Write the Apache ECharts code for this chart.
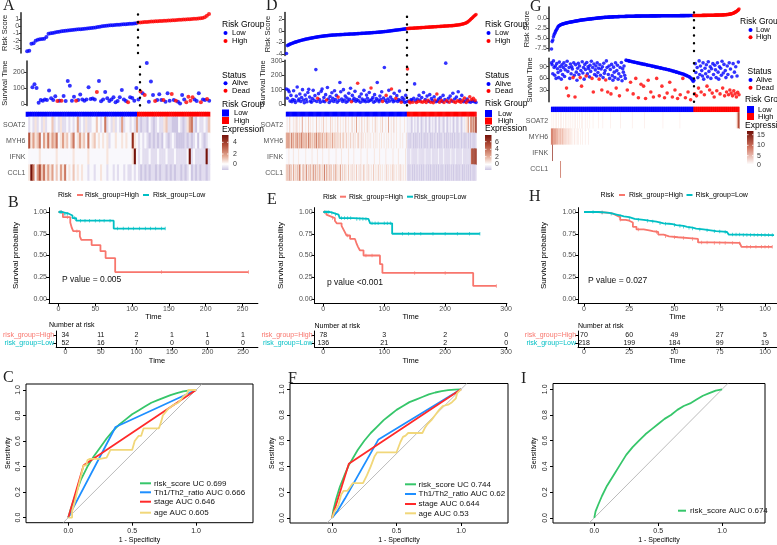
<!DOCTYPE html>
<html><head><meta charset="utf-8"><title>Risk model figure</title>
<script src="https://cdn.jsdelivr.net/npm/echarts@6.0.0/dist/echarts.min.js"></script>
<style>html,body{margin:0;padding:0;background:#fff;}#chart{width:777px;height:545px;}</style>
</head><body><div id="chart"></div>
<script>
// ======================= DATA =======================
const genes = ['SOAT2','MYH6','IFNK','CCL1'];

// ---- Panel A (risk score, survival, heatmap) ----
const riskLowA = [-3.45,-3.38,-2.42,-2.35,-2.02,-1.86,-1.8,-1.76,-1.72,-1.5,
 -1.05,-0.98,-0.92,-0.86,-0.8,-0.75,-0.7,-0.66,-0.62,-0.58,
 -0.55,-0.52,-0.49,-0.46,-0.43,-0.41,-0.38,-0.35,-0.32,-0.28,
 -0.24,-0.2,-0.16,-0.12,-0.06,-0.02,0.02,0.06,0.09,0.12,
 0.15,0.18,0.2,0.22,0.25,0.27,0.29,0.31,0.34,0.36,0.39,0.42];
const riskHighA = [0.5,0.53,0.56,0.58,0.6,0.62,0.64,0.66,0.68,0.7,0.72,0.73,0.75,0.77,0.78,0.8,0.82,0.84,0.86,0.88,
 0.9,0.92,0.94,0.96,0.98,1.0,1.02,1.04,1.06,1.09,1.13,1.25,1.45,1.68];
const timeLowA = [105,124,100,8,25,21,29,25,84,36,25,48,19,21,21,50,19,145,114,21,46,21,25,59,29,21,29,105,32,34,29,76,145,17,29,76,36,19,29,42,11,19,42,88,29,19,11,42,38,21,101,29];
const timeHighA = [78,67,57,257,15,141,57,19,25,61,25,25,15,67,21,63,25,21,15,4,57,29,11,46,21,42,29,19,67,11,29,25,32,21];
const deadLowA = [12,14,21,31,46];
const deadHighA = [0,2,7,11,15,17,22,23,24,25,29,32];
const heatLowA = [
 "1213121312 2412131121 2125121311 2242126121 3121512212 15",
 "7353462536 3546235342 4623534262 3423232312 2322323228 32",
 "2222232222 2223222222 2322222232 2222222322 2222222223 92",
 "3962574635 3524253623 2423232212 2122322122 1212212112 12"];
const heatHighA = [
 "1011021012 1134110002 1013561021 1214",
 "1212101010 1021012100 0010101202 1012",
 "1211121112 1112111211 1112912111 1191",
 "1010101101 0110101011 0101201010 1101"];

// ---- Panel D ----
const riskLowD = [-3.9,-2.55,-2.45,-2.38,-2.3,-2.24,-2.18,-2.12,-2.06,-2.0,
 -1.95,-1.9,-1.86,-1.81,-1.76,-1.72,-1.68,-1.63,-1.59,-1.55,
 -1.51,-1.47,-1.43,-1.4,-1.37,-1.34,-1.31,-1.28,-1.25,-1.22,
 -1.19,-1.16,-1.13,-1.1,-1.08,-1.05,-1.03,-1.0,-0.98,-0.96,
 -0.94,-0.92,-0.9,-0.88,-0.86,-0.84,-0.83,-0.81,-0.79,-0.78,
 -0.76,-0.75,-0.74,-0.73,-0.72,-0.71,-0.7,-0.69,-0.68,-0.67,
 -0.66,-0.65,-0.65,-0.64,-0.63,-0.62,-0.61,-0.6,-0.6,-0.59,
 -0.58,-0.57,-0.56,-0.55,-0.55,-0.54,-0.53,-0.52,-0.51,-0.5,
 -0.49,-0.48,-0.47,-0.46,-0.45,-0.44,-0.43,-0.42,-0.41,-0.4,
 -0.39,-0.38,-0.37,-0.36,-0.35,-0.34,-0.33,-0.32,-0.3,-0.29,
 -0.28,-0.27,-0.26,-0.24,-0.23,-0.22,-0.2,-0.19,-0.17,-0.16,
 -0.14,-0.13,-0.11,-0.09,-0.07,-0.05,-0.03,-0.01,0.01,0.03,
 0.05,0.07,0.09,0.11,0.13,0.15,0.17,0.19,0.21,0.23,
 0.25,0.27,0.29,0.31,0.33,0.35];
const riskHighD = [0.38,0.39,0.41,0.42,0.43,0.44,0.45,0.46,0.47,0.48,
 0.49,0.5,0.51,0.52,0.53,0.54,0.55,0.56,0.57,0.58,
 0.59,0.6,0.61,0.62,0.63,0.64,0.65,0.66,0.67,0.68,
 0.69,0.7,0.71,0.72,0.73,0.74,0.75,0.76,0.77,0.78,
 0.79,0.8,0.81,0.82,0.83,0.84,0.85,0.86,0.87,0.88,
 0.89,0.9,0.92,0.93,0.95,0.97,0.99,1.01,1.03,1.06,
 1.09,1.12,1.16,1.2,1.25,1.3,1.37,1.45,1.55,1.68,
 1.82,1.98,2.12,2.26,2.4,2.55,2.68,2.8];
const timeLowD = [105,40,98,85,20,60,15,30,92,25,
 10,55,118,22,35,70,18,45,100,28,
 8,62,33,15,80,102,48,20,12,38,
 95,25,58,240,18,40,72,30,12,88,
 105,20,45,15,65,28,115,35,10,52,
 22,78,40,18,92,30,60,12,48,25,
 150,85,35,18,100,28,55,12,42,20,
 75,32,110,15,60,25,40,88,18,30,
 145,22,50,12,70,35,20,95,28,15,
 62,40,18,80,25,112,30,45,12,65,
 20,38,150,28,15,55,30,85,18,42,
 255,25,60,12,35,95,20,48,105,30,
 15,75,22,40,58,18,30,90,25,12,
 45,20,35,10,60,15];
const timeHighD = [245,20,15,8,30,25,12,40,140,22,
 10,35,18,60,28,15,45,12,80,20,
 30,10,55,25,18,65,12,38,22,8,
 50,28,15,70,20,35,12,45,25,18,
 60,10,30,285,22,15,40,12,55,28,
 20,75,15,35,10,48,22,85,18,30,
 12,60,25,15,42,20,10,35,25,15,
 50,12,30,20,40,15,25,10];
const deadLowD = [35,45,58,73,80,95,108,112,118,123,129];
const deadHighD = [0,2,3,6,10,12,15,17,19,21,23,26,29,31,33,36,38,41,44,47,49,52,54,56,58,60,62,64,66,68,70,72,74,76];
const heatLowD = [
 "2322422232 3242232252 2232242322 3222422322 3242232222 4232232242 2322322422 3222422325 2232242232 2423222322 4232223242 2232252232 2422322232 222322",
 "5464536453 4546354645 3545364534 4354635453 4534354343 4353434243 3423432342 3242324232 3423242323 2323232232 3232232322 3223232232 2322322232 232223",
 "2223222232 2222322222 2232222223 2222232222 2322222232 2222223222 2232222222 3222223222 2222322222 2322222223 2222232222 2232222222 3222223222 222232",
 "4352634253 3425364235 2436243524 3625342534 2436253425 3424253423 3524234232 4232423324 2324232432 3242323242 3232423232 2324232323 4232323242 323232"];
const heatHighD = [
 "1212101211 2101210112 1012101211 2101210121 1012101211 2101210112 1012123345 25637458",
 "1101011010 1011010110 1010110101 1011010101 1101010110 1010110101 1011010110 10110101",
 "1111211111 1121111111 2111111211 1111121111 1211111112 1111211111 1121111111 11685968",
 "1010110101 1011010101 1101010110 1010101101 0110101011 0101101010 1101011010 10110101"];

// ---- Panel G ----
const riskLowG = [-7.75,-5.9,-5.5,-4.7,-4.2,-3.8,-3.4,-3.1,-2.8,-2.5,
 -2.2,-2.0,-1.9,-1.8,-1.7,-1.62,-1.55,-1.5,-1.45,-1.4,
 -1.35,-1.3,-1.26,-1.22,-1.18,-1.14,-1.1,-1.06,-1.03,-1.0,
 -0.97,-0.94,-0.91,-0.88,-0.85,-0.82,-0.79,-0.76,-0.73,-0.7,
 -0.67,-0.64,-0.61,-0.58,-0.55,-0.52,-0.5,-0.47,-0.45,-0.43,
 -0.41,-0.39,-0.37,-0.35,-0.33,-0.31,-0.29,-0.27,-0.25,-0.23,
 -0.21,-0.19,-0.17,-0.15,-0.13,-0.11,-0.09,-0.07,-0.05,-0.03,
 -0.01,0.01,0.03,0.05,0.06,0.08,0.09,0.11,0.12,0.14,
 0.15,0.17,0.18,0.19,0.2,0.21,0.22,0.23,0.24,0.25,
 0.26,0.27,0.28,0.29,0.3,0.31,0.32,0.33,0.33,0.34,
 0.35,0.35,0.36,0.37,0.37,0.38,0.38,0.39,0.39,0.4,
 0.4,0.41,0.41,0.42,0.42,0.43,0.43,0.44,0.44,0.45,
 0.45,0.45,0.46,0.46,0.46,0.47,0.47,0.47,0.48,0.48,
 0.48,0.49,0.49,0.49,0.5,0.5,0.5,0.5,0.51,0.51,
 0.51,0.51,0.52,0.52,0.52,0.52,0.53,0.53,0.53,0.53,
 0.53,0.54,0.54,0.54,0.54,0.54,0.55,0.55,0.55,0.55,
 0.55,0.55,0.56,0.56,0.56,0.56,0.56,0.56,0.57,0.57,
 0.57,0.57,0.57,0.57,0.57,0.58,0.58,0.58,0.58,0.58,
 0.58,0.58,0.59,0.59,0.59,0.59,0.59,0.59,0.59,0.6,
 0.6,0.6,0.6,0.6,0.6,0.6,0.6,0.61,0.61,0.61,
 0.61,0.61,0.61,0.61,0.61,0.62,0.62,0.62,0.62,0.62,
 0.62,0.62,0.63,0.63,0.63,0.63,0.63,0.63];
const riskHighG = [0.64,0.64,0.64,0.64,0.65,0.65,0.65,0.65,0.65,0.66,
 0.66,0.66,0.66,0.67,0.67,0.67,0.67,0.68,0.68,0.68,
 0.68,0.69,0.69,0.69,0.7,0.7,0.7,0.71,0.71,0.71,
 0.72,0.72,0.73,0.73,0.73,0.74,0.74,0.75,0.75,0.76,
 0.76,0.77,0.78,0.78,0.79,0.8,0.81,0.82,0.83,0.84,
 0.86,0.88,0.9,0.92,0.95,0.98,1.02,1.06,1.1,1.15,
 1.2,1.28,1.36,1.45,1.55,1.65,1.78,1.9,2.05,2.25];
const timeLowG = [100,95,72,105,88,68,92,60,98,85,
 75,62,102,90,80,58,95,70,88,100,
 65,82,93,35,104,78,15,88,60,97,
 72,90,84,62,100,68,12,95,76,55,
 86,99,70,92,62,80,40,103,74,88,
 58,96,83,66,101,72,90,85,64,94,
 78,104,60,88,25,97,70,82,92,66,
 100,75,86,58,95,68,84,30,90,62,
 99,73,80,56,105,88,25,70,92,60,
 83,20,96,67,55,89,76,62,100,35,
 80,94,58,72,15,88,65,101,54,85,
 76,92,68,60,107,106,30,106,105,105,
 104,50,104,103,103,20,102,102,101,60,
 101,100,100,10,99,99,98,45,98,97,
 97,40,96,96,8,95,95,94,55,94,
 93,93,25,92,92,91,12,91,90,90,
 89,60,89,88,88,15,87,87,86,40,
 86,85,85,10,84,84,83,22,83,82,
 82,50,81,80,80,12,79,78,78,30,
 77,76,76,8,75,74,74,18,73,72,
 72,60,71,70,69,10,68,67,66,25,
 65,64,62,5,60,58,55,52];
const timeHighG = [55,20,98,75,15,88,62,35,105,70,
 92,25,80,66,100,58,18,86,72,95,
 40,64,103,78,30,90,60,85,22,98,
 70,12,94,82,62,28,100,76,58,90,
 20,86,68,104,35,74,96,15,80,62,
 25,92,70,18,100,30,84,22,64,15,
 98,28,76,20,90,12,66,24,102,18];
const deadLowG = [23,26,33,36,44,46,53,62,64,73,77,83,86,91,99,104,116,121,125,129,133,137,141,144,148,152,156,161,165,169,173,177,181,185,189,193,197,201,205,209,213];
const deadHighG = [1,4,7,11,16,20,24,28,31,35,40,44,47,50,53,55,57,59,61,63,65,67,69];
const heatLowG = [
 "0101001010 0100101001 0010100101 0010010100 1001001010 0010010001 0000100000 0010000001 0000000000 0100000000 0000001000 0000000000 0000100000 0000000000 0001000000 0000000000 0000000000 0100000000 0000000000 0000000100 0000000000 00000000",
 "5454343433 3232322322 2121211211 1101011010 1010010010 0010000100 0000000000 0000000000 0000000000 0000000000 0000000000 0000000000 0000000000 0000000000 0000000000 0000000000 0000000000 0000000000 0000000000 0000000000 0000000000 00000000",
 "0080000000 0000000000 0000000000 0000000000 0000000000 0000000000 0000000000 0000000000 0000000000 0000000000 0000000000 0000000000 0000000000 0000000000 0000000000 0000000000 0000000000 0000000000 0000000000 0000000000 0000000000 00000000",
 "0000000000 0000600000 0000000000 0000000000 0000000000 0000000000 0000000000 0000000000 0000000000 0000000000 0000000000 0000000000 0000000000 0000000000 0000000000 0000000000 0000000000 0000000000 0000000000 0000000000 0000000000 00000000"];
const heatHighG = [
 "0000000000 0000000000 0000000000 0000000000 0000000000 0000000000 0000011367",
 "0000000000 0000000000 0000000000 0000000000 0000000000 0000000000 0000000000",
 "0000000000 0000000000 0000000000 0000000000 0000000000 0000000000 0000000000",
 "0000000000 0000000000 0000000000 0000000000 0000000000 0000000000 0000000000"];

// ---- KM curves [time, survival] ----
const kmHighB = [[0,1],[6,0.94],[16,0.88],[18,0.82],[20,0.78],[29,0.72],[31,0.68],[45,0.62],[57,0.55],[64,0.47],[77,0.31],[258,0.31]];
const kmLowB  = [[0,1],[5,0.98],[14,0.96],[19,0.93],[24,0.9],[75,0.81],[145,0.81]];
const censHighB = [3,12,25,140,258];
const censLowB = [2,4,8,10,12,22,30,36,42,50,56,62,70,80,88,95,102,110,118,125,132,140,145];
const kmHighE = [[0,1],[5,0.97],[8,0.95],[12,0.93],[19,0.9],[22,0.87],[30,0.84],[33,0.8],[36,0.76],[38,0.73],[44,0.69],[52,0.67],[55,0.63],[57,0.6],[60,0.56],[66,0.5],[93,0.4],[97,0.3],[246,0.15],[284,0.15]];
const kmLowE  = [[0,1],[11,0.99],[16,0.97],[25,0.95],[27,0.93],[49,0.92],[74,0.9],[77,0.87],[113,0.75],[257,0.75]];
const censHighE = [2,15,40,70,80,150,200,284];
const censLowE = [3,6,9,14,20,30,35,40,45,55,60,65,70,80,85,90,100,105,110,130,140,150,160,180,200,220,240,257];
const kmHighH = [[0,1],[7,0.995],[11,0.99],[14,0.98],[16,0.96],[18,0.94],[20,0.91],[23,0.9],[25,0.88],[27,0.83],[29,0.8],[33,0.79],[36,0.78],[38,0.77],[41,0.74],[44,0.72],[47,0.71],[52,0.7],[58,0.69],[63,0.65],[70,0.645],[86,0.64],[87,0.6],[104,0.6]];
const kmLowH  = [[0,1],[8,0.995],[11,0.99],[14,0.98],[16,0.97],[18,0.96],[20,0.95],[22,0.94],[25,0.92],[28,0.91],[33,0.9],[36,0.89],[40,0.87],[44,0.865],[47,0.86],[49,0.85],[51,0.84],[55,0.83],[57,0.82],[60,0.81],[62,0.8],[66,0.79],[70,0.78],[73,0.775],[77,0.77],[79,0.76],[80,0.74],[87,0.735],[105,0.735]];
const censHighH = [10,20,30,40,45,50,55,60,65,68,72,75,78,82,86,90,92,95,98,100,102,104];
const censLowH = [5,10,15,20,25,30,35,38,42,45,50,53,55,58,60,64,68,72,75,78,82,84,86,88,90,92,94,96,98,100,102,104];

// ---- Number at risk ----
const narTimesB = [0,50,100,150,200,250]; const narHighB = [34,11,2,1,1,1]; const narLowB = [52,16,7,0,0,0];
const narTimesE = [0,100,200,300];        const narHighE = [78,3,2,0];      const narLowE = [136,21,2,0];
const narTimesH = [0,25,50,75,100];       const narHighH = [70,60,49,27,5]; const narLowH = [218,199,184,99,19];
const pTextB = 'P value = 0.005', pTextE = 'p value <0.001', pTextH = 'P value = 0.027';

// ---- ROC curves [1-specificity, sensitivity] ----
const rocC_risk = [[0,0],[0.02,0.07],[0.05,0.16],[0.1,0.3],[0.15,0.4],[0.2,0.48],[0.25,0.55],[0.3,0.62],[0.35,0.68],[0.4,0.73],[0.45,0.77],[0.5,0.81],[0.55,0.84],[0.6,0.87],[0.65,0.9],[0.7,0.92],[0.75,0.94],[0.8,0.96],[0.85,0.975],[0.9,0.99],[0.95,0.997],[1,1]];
const rocC_th = [[0,0],[0.03,0.06],[0.37,0.71],[1,1]];
const rocC_stage = [[0,0],[0.12,0.41],[1,1]];
const rocC_age = [[0,0],[0.03,0],[0.03,0.05],[0.05,0.12],[0.08,0.25],[0.12,0.41],[0.14,0.41],[0.15,0.45],[0.17,0.46],[0.25,0.46],[0.26,0.47],[0.3,0.47],[0.33,0.53],[0.5,0.53],[0.52,0.6],[0.55,0.64],[0.57,0.64],[0.59,0.7],[0.71,0.7],[0.73,0.76],[0.74,0.8],[0.78,0.85],[0.82,0.88],[0.86,0.9],[0.88,0.92],[0.9,0.95],[0.93,0.97],[0.94,1],[1,1]];
const rocF_risk = [[0,0],[0.01,0.06],[0.03,0.14],[0.06,0.24],[0.1,0.34],[0.13,0.41],[0.2,0.53],[0.25,0.6],[0.3,0.66],[0.35,0.71],[0.4,0.76],[0.45,0.8],[0.5,0.84],[0.55,0.87],[0.6,0.9],[0.65,0.92],[0.7,0.94],[0.75,0.96],[0.8,0.975],[0.85,0.985],[0.9,0.993],[0.95,0.998],[1,1]];
const rocF_th = [[0,0],[0.04,0.05],[0.1,0.15],[0.36,0.61],[1,1]];
const rocF_stage = [[0,0],[0.13,0.42],[1,1]];
const rocF_age = [[0,0],[0.02,0.05],[0.05,0.1],[0.07,0.18],[0.09,0.21],[0.12,0.21],[0.14,0.24],[0.16,0.27],[0.24,0.27],[0.27,0.33],[0.3,0.4],[0.33,0.48],[0.35,0.51],[0.5,0.51],[0.53,0.59],[0.55,0.63],[0.57,0.64],[0.59,0.66],[0.7,0.66],[0.72,0.7],[0.74,0.73],[0.77,0.76],[0.8,0.8],[0.83,0.84],[0.86,0.87],[0.9,0.88],[0.93,0.9],[0.96,0.93],[0.97,0.97],[1,1]];
const rocI_risk = [[0,0],[0.01,0.05],[0.03,0.1],[0.06,0.17],[0.1,0.25],[0.15,0.33],[0.2,0.41],[0.25,0.49],[0.3,0.55],[0.35,0.6],[0.4,0.65],[0.45,0.69],[0.5,0.73],[0.55,0.77],[0.6,0.8],[0.65,0.84],[0.7,0.87],[0.75,0.89],[0.8,0.92],[0.85,0.95],[0.9,0.97],[0.95,0.99],[1,1]];
const rocLabelsC = ['risk_score UC 0.699','Th1/Th2_ratio AUC 0.666','stage AUC 0.646','age AUC 0.605'];
const rocLabelsF = ['risk_score UC 0.744','Th1/Th2_ratio AUC 0.62','stage AUC 0.644','age AUC 0.53'];
const rocLabelsI = ['risk_score AUC 0.674'];

// ======================= BUILD =======================
const FONT = '"Liberation Sans", Arial, sans-serif';
const SERIF = '"Liberation Serif", "DejaVu Serif", serif';
const grids=[], xAxis=[], yAxis=[], series=[], visualMap=[], graphic=[];
const add=(arr,o)=>{arr.push(o);return arr.length-1;};
function txt(x,y,text,size,o){o=o||{};
  graphic.push({type:'text',x:x,y:y,rotation:o.rot||0,silent:true,z:50,
    style:{text:text,fill:o.color||'#000',fontSize:size,fontFamily:o.family||FONT,
      align:o.align||'left',verticalAlign:o.va||'middle',textAlign:o.align||'left',textVerticalAlign:o.va||'middle'}});}
function rect(x,y,w,h,fill){graphic.push({type:'rect',silent:true,z:50,shape:{x:x,y:y,width:w,height:h},style:{fill:fill}});}
function dot(cx,cy,r,fill){graphic.push({type:'circle',silent:true,z:50,shape:{cx:cx,cy:cy,r:r},style:{fill:fill}});}
function seg(x1,y1,x2,y2,stroke,w){graphic.push({type:'line',silent:true,z:50,shape:{x1:x1,y1:y1,x2:x2,y2:y2},style:{stroke:stroke,lineWidth:w}});}

const palAD = ['#cdc6e3','#e2ddef','#f9f8fc','#f7e4dc','#eec6b7','#e0a08a','#cc7861','#b4513b','#952c1c','#74120a'];
const palG  = ['#ffffff','#fbeae5','#f5d2c7','#ecb5a5','#e09683','#d27661','#c05842','#a93a27','#8e2214','#700d05'];
const BLUE='#0000ff', RED='#ff0000';

function buildTop(L, riskLow, riskHigh, timeLow, timeHigh, deadLow, deadHigh, heatLow, heatHigh, pal){
  const nLow=riskLow.length, n=nLow+riskHigh.length;
  const step=(L.x1-L.x0)/(n-1);
  const pad=(L.x0-L.axisX)/step;
  const xmin=-pad, xmax=n-1+pad, gw=(xmax-xmin)*step;
  const split=nLow-0.5;
  const dotted={type:[0.1,7.6],width:2.4,cap:'round',color:'#000'};
  const yAx=(g,min,max,ticks,name,fmt)=>add(yAxis,{gridIndex:g,type:'value',min:min,max:max,
    axisLine:{show:true,onZero:false,lineStyle:{color:'#333',width:1.6}},
    axisTick:{show:true,length:2.5,lineStyle:{color:'#333',width:1},customValues:ticks},
    axisLabel:{fontFamily:FONT,fontSize:7,color:'#4d4d4d',margin:2,customValues:ticks,formatter:fmt},
    splitLine:{show:false},name:name,nameLocation:'middle',nameGap:L.nameGap,
    nameTextStyle:{fontFamily:FONT,fontSize:7.5,color:'#222'}});
  // risk score
  const g1=add(grids,{left:L.axisX,top:L.riskTop,width:gw,height:L.riskBot-L.riskTop});
  const x1=add(xAxis,{gridIndex:g1,type:'value',min:xmin,max:xmax,show:false,axisLine:{onZero:false}});
  const y1=yAx(g1,L.riskMin,L.riskMax,L.riskTicks,'Risk Score',L.fmt);
  series.push({type:'scatter',xAxisIndex:x1,yAxisIndex:y1,symbolSize:L.sym,itemStyle:{color:BLUE},
    data:riskLow.map((v,i)=>[i,v]),
    markLine:{silent:true,symbol:['none','none'],label:{show:false},lineStyle:dotted,data:[{xAxis:split}]}});
  series.push({type:'scatter',xAxisIndex:x1,yAxisIndex:y1,symbolSize:L.sym,itemStyle:{color:RED},
    data:riskHigh.map((v,i)=>[nLow+i,v])});
  // survival time
  const g2=add(grids,{left:L.axisX,top:L.survTop,width:gw,height:L.survBot-L.survTop});
  const x2=add(xAxis,{gridIndex:g2,type:'value',min:xmin,max:xmax,show:false,axisLine:{onZero:false}});
  const y2=yAx(g2,L.survMin,L.survMax,L.survTicks,'Survival Time',v=>String(v));
  const times=timeLow.concat(timeHigh);
  const dead=new Set(deadLow.concat(deadHigh.map(i=>i+nLow)));
  const alive=[], died=[];
  times.forEach((t,i)=>{(dead.has(i)?died:alive).push([i,t]);});
  series.push({type:'scatter',xAxisIndex:x2,yAxisIndex:y2,symbolSize:L.sym,itemStyle:{color:BLUE},data:alive,
    markLine:{silent:true,symbol:['none','none'],label:{show:false},lineStyle:dotted,data:[{xAxis:split}]}});
  series.push({type:'scatter',xAxisIndex:x2,yAxisIndex:y2,symbolSize:L.sym,itemStyle:{color:RED},data:died});
  // risk group bar
  const cats=[]; for(let i=0;i<n;i++) cats.push(i);
  const g3=add(grids,{left:L.x0-step/2,top:L.barTop,width:n*step,height:L.barBot-L.barTop});
  const x3=add(xAxis,{gridIndex:g3,type:'category',data:cats,show:false});
  const y3=add(yAxis,{gridIndex:g3,type:'category',data:['group'],show:false});
  const s3=add(series,{type:'heatmap',xAxisIndex:x3,yAxisIndex:y3,data:cats.map(i=>[i,0,i<nLow?0:1])});
  visualMap.push({type:'continuous',show:false,seriesIndex:s3,min:0,max:1,dimension:2,inRange:{color:[BLUE,RED]}});
  // expression heatmap
  const g4=add(grids,{left:L.x0-step/2,top:L.heatTop,width:n*step,height:L.heatBot-L.heatTop});
  const x4=add(xAxis,{gridIndex:g4,type:'category',data:cats,show:false});
  const y4=add(yAxis,{gridIndex:g4,type:'category',data:genes,inverse:true,
    axisLine:{show:false},axisTick:{show:false},
    axisLabel:{fontFamily:FONT,fontSize:7,color:'#555',margin:3}});
  const hd=[];
  genes.forEach((g,r)=>{const s=(heatLow[r]+heatHigh[r]).replace(/\s/g,'');
    for(let i=0;i<n&&i<s.length;i++) hd.push([i,r,+s[i]]);});
  const s4=add(series,{type:'heatmap',xAxisIndex:x4,yAxisIndex:y4,data:hd});
  visualMap.push({type:'continuous',show:false,seriesIndex:s4,min:0,max:9,dimension:2,inRange:{color:pal}});
}

function topLegend(G, stops){
  txt(G.rgX,G.rgY,'Risk Group',8.5);
  dot(G.dotX,G.lowY,2,BLUE); txt(G.itX,G.lowY,'Low',7.5);
  dot(G.dotX,G.highY,2,RED); txt(G.itX,G.highY,'High',7.5);
  txt(G.stX,G.stY,'Status',8.5);
  dot(G.dotX2,G.aliveY,2,BLUE); txt(G.itX2,G.aliveY,'Alive',7.5);
  dot(G.dotX2,G.deadY,2,RED); txt(G.itX2,G.deadY,'Dead',7.5);
  txt(G.rg2X,G.rg2Y,'Risk Group',8.5);
  rect(G.sqX,G.sq1Y,7,7,BLUE); txt(G.sqTxtX,G.sq1Y+3.5,'Low',7.5);
  rect(G.sqX,G.sq2Y,7,7,RED); txt(G.sqTxtX,G.sq2Y+3.5,'High',7.5);
  txt(G.exX,G.exY,'Expression',8.5);
  graphic.push({type:'rect',silent:true,z:50,shape:{x:G.cbX,y:G.cbTop,width:6.5,height:G.cbBot-G.cbTop},
    style:{fill:{type:'linear',x:0,y:0,x2:0,y2:1,colorStops:stops}}});
  G.ticks.forEach(t=>{seg(G.cbX,t[1],G.cbX+1.5,t[1],'#fff',0.8);seg(G.cbX+5,t[1],G.cbX+6.5,t[1],'#fff',0.8);txt(G.tickX,t[1],t[0],7,{color:'#333'});});
}

// ---- top row layouts ----
buildTop({axisX:21,x0:27,x1:209,riskTop:12.7,riskBot:53,riskMin:-3.7,riskMax:1.87,riskTicks:[-3,-2,-1,0,1],fmt:v=>String(v),
  survTop:61,survBot:105.4,survMin:-8.6,survMax:269.6,survTicks:[0,100,200],barTop:112,barBot:116.5,heatTop:117,heatBot:180.5,nameGap:10,sym:4},
  riskLowA,riskHighA,timeLowA,timeHighA,deadLowA,deadHighA,heatLowA,heatHighA,palAD);
buildTop({axisX:284.5,x0:286.5,x1:476,riskTop:12.6,riskBot:55.4,riskMin:-4.235,riskMax:3.135,riskTicks:[-4,-2,0,2],fmt:v=>String(v),
  survTop:60.3,survBot:105.4,survMin:-10,survMax:305,survTicks:[0,100,200,300],barTop:112,barBot:116.5,heatTop:117,heatBot:180.5,nameGap:11,sym:3.6},
  riskLowD,riskHighD,timeLowD,timeHighD,deadLowD,deadHighD,heatLowD,heatHighD,palAD);
buildTop({axisX:549,x0:551.5,x1:739,riskTop:7.1,riskBot:51,riskMin:-8.25,riskMax:2.75,riskTicks:[-7.5,-5,-2.5,0],fmt:v=>v.toFixed(1),
  survTop:58.2,survBot:101.7,survMin:-0.1,survMax:112,survTicks:[30,60,90],barTop:107,barBot:112,heatTop:112.5,heatBot:177.5,nameGap:15,sym:3.6},
  riskLowG,riskHighG,timeLowG,timeHighG,deadLowG,deadHighG,heatLowG,heatHighG,palG);

const stopsAD=[{offset:0,color:'#74120a'},{offset:0.3,color:'#b4513b'},{offset:0.6,color:'#e3a994'},{offset:0.83,color:'#ffffff'},{offset:1,color:'#cdc6e3'}];
topLegend({rgX:222,rgY:25,dotX:225.5,itX:232,lowY:33,highY:41,stX:222,stY:75.7,dotX2:225.5,itX2:232,aliveY:83.3,deadY:90.7,
  rg2X:222,rg2Y:104.3,sqX:222,sq1Y:109.5,sq2Y:117,sqTxtX:234,exX:222,exY:129.3,cbX:222,cbTop:135,cbBot:170,tickX:233,
  ticks:[['4',142.3],['2',154],['0',164]]},stopsAD);
topLegend({rgX:485,rgY:25,dotX:488.5,itX:495,lowY:33,highY:41,stX:485,stY:76,dotX2:488.5,itX2:495,aliveY:84,deadY:91,
  rg2X:485,rg2Y:104,sqX:485,sq1Y:110,sq2Y:117.5,sqTxtX:498,exX:485,exY:129,cbX:485,cbTop:135,cbBot:170,tickX:495,
  ticks:[['6',141.7],['4',149.3],['2',156.7],['0',164.3]]},
  [{offset:0,color:'#74120a'},{offset:0.3,color:'#b4513b'},{offset:0.6,color:'#e3a994'},{offset:0.84,color:'#ffffff'},{offset:1,color:'#cdc6e3'}]);
topLegend({rgX:740,rgY:21.7,dotX:750.5,itX:756,lowY:30,highY:37.3,stX:747.5,stY:71.7,dotX2:750.5,itX2:756,aliveY:80,deadY:87.7,
  rg2X:745,rg2Y:100,sqX:747,sq1Y:106,sq2Y:113,sqTxtX:758,exX:745,exY:126,cbX:747,cbTop:131,cbBot:167,tickX:757,
  ticks:[['15',134.7],['10',145.3],['5',155.7],['0',165]]},
  [{offset:0,color:'#700d05'},{offset:0.45,color:'#d27661'},{offset:0.93,color:'#ffffff'},{offset:1,color:'#ffffff'}]);

// ---- KM panels ----
const HIGHC='#F8766D', LOWC='#00BFC4';
function survAt(curve,t){let s=curve[0][1];for(const p of curve){if(p[0]<=t)s=p[1];else break;}return s;}
function buildKM(L, high, low, censH, censL, narT, narH, narL, ptext){
  const left=L.x0px+L.xmin*L.ppu, width=(L.xmax-L.xmin)*L.ppu;
  const top=212-0.05*87, height=1.1*87;
  const g=add(grids,{left:left,top:top,width:width,height:height});
  const axLine={show:true,onZero:false,lineStyle:{color:'#000',width:1}};
  const xa=add(xAxis,{gridIndex:g,type:'value',min:L.xmin,max:L.xmax,axisLine:axLine,
    axisTick:{show:true,length:3,lineStyle:{color:'#000'},customValues:L.ticks},
    axisLabel:{fontFamily:FONT,fontSize:7,color:'#4d4d4d',margin:2,customValues:L.ticks},
    splitLine:{show:false},name:'Time',nameLocation:'middle',nameGap:6,nameTextStyle:{fontFamily:FONT,fontSize:7.5,color:'#000'}});
  const yt=[0,0.25,0.5,0.75,1];
  const ya=add(yAxis,{gridIndex:g,type:'value',min:-0.05,max:1.05,axisLine:axLine,
    axisTick:{show:true,length:3,lineStyle:{color:'#000'},customValues:yt},
    axisLabel:{fontFamily:FONT,fontSize:7,color:'#4d4d4d',margin:2,customValues:yt,formatter:v=>v.toFixed(2)},
    splitLine:{show:false},name:'Survival probability',nameLocation:'middle',nameGap:L.nameGap,
    nameTextStyle:{fontFamily:FONT,fontSize:8,color:'#000'}});
  [[high,HIGHC,censH],[low,LOWC,censL]].forEach(a=>{
    series.push({type:'line',xAxisIndex:xa,yAxisIndex:ya,step:'end',data:a[0],symbol:'none',lineStyle:{color:a[1],width:1.8},silent:true});
    series.push({type:'scatter',xAxisIndex:xa,yAxisIndex:ya,symbol:'rect',symbolSize:[0.8,3.5],itemStyle:{color:a[1]},silent:true,
      data:a[2].map(t=>[t,survAt(a[0],t)])});
  });
  txt(L.pX,L.pY,ptext,8.5,{color:'#111'});
  // number at risk table
  const gt=add(grids,{left:left,top:331,width:width,height:16});
  const xt=add(xAxis,{gridIndex:gt,type:'value',min:L.xmin,max:L.xmax,axisLine:axLine,
    axisTick:{show:true,length:3,lineStyle:{color:'#000'},customValues:L.ticks},
    axisLabel:{fontFamily:FONT,fontSize:7,color:'#4d4d4d',margin:2,customValues:L.ticks},
    splitLine:{show:false},name:'Time',nameLocation:'middle',nameGap:7,nameTextStyle:{fontFamily:FONT,fontSize:7.5,color:'#000'}});
  const rows=['risk_group=Low','risk_group=High'];
  const yt2=add(yAxis,{gridIndex:gt,type:'category',data:rows,axisLine:axLine,
    axisTick:{show:true,length:3,alignWithLabel:true,interval:0,lineStyle:{color:'#000'}},
    axisLabel:{fontFamily:FONT,fontSize:7,margin:2,interval:0,color:v=>v.indexOf('High')>=0?HIGHC:LOWC}});
  const lab={show:true,position:'inside',formatter:p=>String(p.value[2]),fontFamily:FONT,fontSize:7,color:'#111',opacity:1};
  series.push({type:'scatter',xAxisIndex:xt,yAxisIndex:yt2,symbolSize:1,itemStyle:{color:'rgba(0,0,0,0)'},label:lab,silent:true,
    labelLayout:{hideOverlap:false},
    data:narT.map((t,i)=>[t,rows[1],narH[i]]).concat(narT.map((t,i)=>[t,rows[0],narL[i]]))});
  txt(left,L.nrY,'Number at risk',7);
  // legend
  txt(L.lgRisk,L.lgY,'Risk',7);
  seg(L.hSeg,L.lgY,L.hSeg+6,L.lgY,HIGHC,2); txt(L.hTxt,L.lgY,'Risk_group=High',7);
  seg(L.lSeg,L.lgY,L.lSeg+6,L.lgY,LOWC,2); txt(L.lTxt,L.lgY,'Risk_group=Low',7);
}
buildKM({x0px:58.5,ppu:0.736,xmin:-12.9,xmax:270.9,ticks:[0,50,100,150,200,250],nameGap:29,pX:62,pY:280,nrY:325,
  lgRisk:58,lgY:195,hSeg:77,hTxt:85,lSeg:143,lTxt:153},kmHighB,kmLowB,censHighB,censLowB,narTimesB,narHighB,narLowB,pTextB);
buildKM({x0px:323.3,ppu:0.6093,xmin:-14.35,xmax:301.35,ticks:[0,100,200,300],nameGap:30,pX:327,pY:282.7,nrY:326,
  lgRisk:323,lgY:196.7,hSeg:340,hTxt:349,lSeg:407,lTxt:414},kmHighE,kmLowE,censHighE,censLowE,narTimesE,narHighE,narLowE,pTextE);
buildKM({x0px:584,ppu:1.81,xmin:-3.3,xmax:106.6,ticks:[0,25,50,75,100],nameGap:30,pX:588,pY:280.7,nrY:325.7,
  lgRisk:600.5,lgY:195,hSeg:619,hTxt:629,lSeg:686.5,lTxt:695.5},kmHighH,kmLowH,censHighH,censLowH,narTimesH,narHighH,narLowH,pTextH);

// ---- ROC panels ----
const ROCCOL=['#36c66a','#1e8fff','#ff2a2a','#f1d77a'];
function buildROC(L, curves, labels){
  const g=add(grids,{left:L.left,top:L.top,width:L.right-L.left,height:L.bottom-L.top,show:true,borderColor:'#000',borderWidth:1,backgroundColor:'transparent'});
  const xt=[0,0.5,1], yt=[0,0.2,0.4,0.6,0.8,1];
  const xa=add(xAxis,{gridIndex:g,type:'value',min:L.xmin,max:L.xmax,axisLine:{show:false,onZero:false},
    axisTick:{show:true,length:3,lineStyle:{color:'#000'},customValues:xt},
    axisLabel:{fontFamily:FONT,fontSize:7,color:'#222',margin:5,customValues:xt,formatter:v=>v.toFixed(1)},
    splitLine:{show:false},name:'1 - Specificity',nameLocation:'middle',nameGap:14,nameTextStyle:{fontFamily:FONT,fontSize:7,color:'#000'}});
  const ya=add(yAxis,{gridIndex:g,type:'value',min:L.ymin,max:L.ymax,axisLine:{show:false,onZero:false},
    axisTick:{show:true,length:3,lineStyle:{color:'#000'},customValues:yt},
    axisLabel:{fontFamily:FONT,fontSize:7,color:'#222',margin:4,rotate:90,customValues:yt,formatter:v=>v.toFixed(1)},
    splitLine:{show:false},name:'Sensitivity',nameLocation:'middle',nameGap:L.nameGap,nameTextStyle:{fontFamily:FONT,fontSize:7,color:'#000'}});
  series.push({type:'line',xAxisIndex:xa,yAxisIndex:ya,data:[[L.ymin,L.ymin],[L.ymax,L.ymax]],symbol:'none',silent:true,
    lineStyle:{color:'#aaaaaa',width:0.8}});
  curves.forEach((c,k)=>series.push({type:'line',xAxisIndex:xa,yAxisIndex:ya,data:c,symbol:'none',silent:true,
    lineStyle:{color:ROCCOL[k],width:1.8}}));
  labels.forEach((t,k)=>{seg(L.segX,L.legY[k],L.segX+(L.segW||11),L.legY[k],ROCCOL[k],2);txt(L.txtX,L.legY[k],t,8,{color:'#111'});});
}
buildROC({left:26,right:253,top:384,bottom:522.7,xmin:-0.331,xmax:1.446,ymin:-0.04,ymax:1.047,nameGap:14,
  segX:140,txtX:154,legY:[483.3,492.3,501.7,512.7]},[rocC_risk,rocC_th,rocC_stage,rocC_age],rocLabelsC);
buildROC({left:290,right:508,top:383.5,bottom:523.5,xmin:-0.326,xmax:1.364,ymin:-0.04,ymax:1.045,nameGap:14,
  segX:405,txtX:418.5,legY:[484.3,494,504,513.3]},[rocF_risk,rocF_th,rocF_stage,rocF_age],rocLabelsF);
buildROC({left:553,right:765,top:383.5,bottom:523.5,xmin:-0.323,xmax:1.336,ymin:-0.04,ymax:1.045,nameGap:15,
  segX:678,segW:8,txtX:690,legY:[510.7]},[rocI_risk],rocLabelsI);

// ---- panel letters ----
[['A',3,6],['D',266,6],['G',530,7],['B',8,203],['E',267,200],['H',529,197],['C',3,378],['F',288,379],['I',521,379]]
  .forEach(l=>txt(l[1],l[2],l[0],16,{family:SERIF,color:'#222'}));

const chart=echarts.init(document.getElementById('chart'),null,{renderer:'canvas'});
chart.setOption({animation:false,backgroundColor:'#fff',grid:grids,xAxis:xAxis,yAxis:yAxis,series:series,visualMap:visualMap,graphic:{elements:graphic}});
</script></body></html>
